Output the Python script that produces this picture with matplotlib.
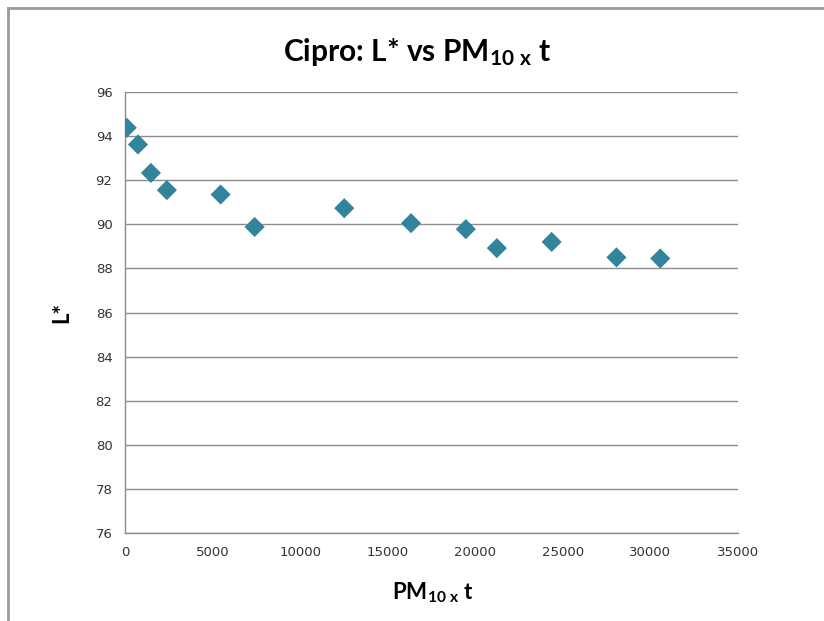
import matplotlib.pyplot as plt
from matplotlib.lines import Line2D

# values
pm10_t = [100, 740, 1480, 2390, 5460, 7400, 12520, 16330, 19460, 21230, 24360, 28060, 30560]
l_star = [94.38, 93.62, 92.33, 91.55, 91.35, 89.88, 90.73, 90.05, 89.78, 88.92, 89.2, 88.5, 88.45]

x_ticks = list(range(0, 35001, 5000))
y_ticks = list(range(76, 97, 2))

plt.rcParams['font.family'] = ['Lato', 'DejaVu Sans']
plt.rcParams['mathtext.fontset'] = 'custom'
plt.rcParams['mathtext.rm'] = 'Lato:bold'
plt.rcParams['mathtext.it'] = 'Lato:bold'
plt.rcParams['mathtext.bf'] = 'Lato:bold'

fig = plt.figure(figsize=(8.24, 6.21), dpi=100)
ax = fig.add_axes([125 / 824, 1 - 533 / 621, (738 - 125) / 824, (533 - 92) / 621])

ax.scatter(pm10_t, l_star, marker='D', s=105, color='#31849B', edgecolors='none', zorder=3)

ax.set_xlim(0, 35000)
ax.set_ylim(76, 96)
ax.set_xticks(x_ticks)
ax.set_yticks(y_ticks)
ax.tick_params(length=0, labelsize=9.5, labelcolor='#333333', pad=9,
               labelfontfamily='DejaVu Sans')
ax.grid(axis='y', color='#8c8c8c', linewidth=1)
ax.set_axisbelow(True)
for side in ('top', 'right'):
    ax.spines[side].set_visible(False)
for side in ('left', 'bottom'):
    ax.spines[side].set_color('#8c8c8c')
    ax.spines[side].set_linewidth(1)

# title sits centred on the whole chart, not on the plot area
fig.text(417 / 824, 1 - 52 / 621, r'Cipro: L* vs PM$_{10\ \mathrm{x}}$ t',
         fontsize=21.5, fontweight='bold', ha='center', va='center')
fig.text(433 / 824, 1 - 593 / 621, r'PM$_{10\ \mathrm{x}}$ t',
         fontsize=16, fontweight='bold', ha='center', va='center')
fig.text(62 / 824, 1 - 312 / 621, 'L*', fontsize=16, fontweight='bold',
         ha='center', va='center', rotation=90)

# outer chart border (left and top edges are visible)
fig.add_artist(Line2D([8 / 824, 8 / 824], [0, 1 - 8 / 621], color='#9a9a9a', linewidth=2))
fig.add_artist(Line2D([8 / 824, 1], [1 - 8 / 621, 1 - 8 / 621], color='#9a9a9a', linewidth=2))

fig.savefig('out.png', dpi=100)
